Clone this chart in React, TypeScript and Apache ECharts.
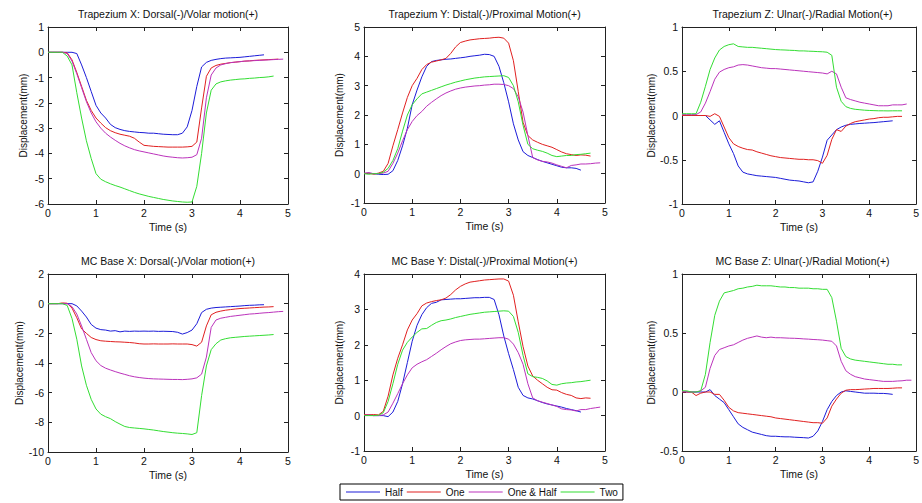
import React, { useEffect, useRef } from "react";
import * as echarts from "echarts";

const TIME = [0, 0.1, 0.2, 0.3, 0.4, 0.5, 0.6, 0.7, 0.8, 0.9, 1.0, 1.1, 1.2, 1.3, 1.4, 1.5, 1.6, 1.7, 1.8, 1.9, 2.0, 2.1, 2.2, 2.3, 2.4, 2.5, 2.6, 2.7, 2.8, 2.9, 3.0, 3.1, 3.2, 3.3, 3.4, 3.5, 3.6, 3.7, 3.8, 3.9, 4.0, 4.1, 4.2, 4.3, 4.4, 4.5, 4.6, 4.7, 4.8, 4.9];
const SERIES_NAMES = ["Half", "One", "One & Half", "Two"];
const COLORS = ["#1c1cd8", "#e02020", "#bb33bb", "#33dd33"];
const X_TICKS = { min: 0, max: 5, interval: 1 };

// Trapezium X
const trapXHalf = [0, 0, 0, 0, 0, 0, -0.05, -0.5, -1.0, -1.55, -2.1, -2.4, -2.6, -2.85, -2.98, -3.05, -3.1, -3.13, -3.15, -3.17, -3.18, -3.2, -3.2, -3.22, -3.24, -3.25, -3.26, -3.26, -3.2, -2.95, -2.3, -1.35, -0.58, -0.4, -0.32, -0.28, -0.25, -0.23, -0.22, -0.21, -0.2, -0.18, -0.16, -0.14, -0.12, -0.1];
const trapXOne = [0, 0, 0, 0, -0.02, -0.3, -0.8, -1.35, -1.9, -2.3, -2.6, -2.8, -2.98, -3.1, -3.18, -3.24, -3.28, -3.32, -3.4, -3.55, -3.68, -3.7, -3.72, -3.73, -3.74, -3.75, -3.75, -3.75, -3.75, -3.74, -3.72, -3.55, -2.2, -0.95, -0.62, -0.52, -0.47, -0.44, -0.41, -0.39, -0.37, -0.35, -0.34, -0.32, -0.31, -0.3, -0.29, -0.28, -0.27];
const trapXOneHalf = [0, 0, 0, 0, -0.05, -0.35, -0.85, -1.4, -1.95, -2.4, -2.75, -3.0, -3.2, -3.35, -3.48, -3.6, -3.7, -3.78, -3.85, -3.9, -3.94, -3.98, -4.02, -4.06, -4.1, -4.13, -4.15, -4.17, -4.18, -4.17, -4.15, -4.05, -3.4, -1.8, -0.9, -0.62, -0.5, -0.45, -0.41, -0.39, -0.37, -0.35, -0.34, -0.33, -0.32, -0.31, -0.3, -0.29, -0.28, -0.27];
const trapXTwo = [0, 0, 0, 0, -0.15, -0.5, -1.6, -2.6, -3.5, -4.2, -4.8, -5.02, -5.12, -5.2, -5.27, -5.33, -5.4, -5.47, -5.54, -5.6, -5.65, -5.7, -5.74, -5.78, -5.82, -5.85, -5.88, -5.9, -5.92, -5.93, -5.92, -5.3, -4.0, -2.4, -1.5, -1.25, -1.17, -1.13, -1.1, -1.08, -1.06, -1.05, -1.03, -1.02, -1.0, -0.99, -0.97, -0.94];

// Trapezium Y
const trapYHalf = [0, 0.02, 0, -0.02, -0.03, -0.02, 0.1, 0.45, 0.95, 1.55, 2.35, 2.85, 3.3, 3.66, 3.82, 3.86, 3.88, 3.9, 3.91, 3.93, 3.95, 3.97, 4.0, 4.02, 4.04, 4.07, 4.06, 4.0, 3.66, 3.1, 2.45, 1.7, 1.15, 0.75, 0.62, 0.55, 0.48, 0.42, 0.37, 0.32, 0.27, 0.22, 0.2, 0.2, 0.18, 0.12];
const trapYOne = [0, 0.02, -0.02, 0.02, 0.08, 0.35, 0.95, 1.5, 2.07, 2.6, 3.0, 3.25, 3.55, 3.72, 3.8, 3.84, 3.88, 3.93, 4.1, 4.32, 4.47, 4.52, 4.56, 4.58, 4.6, 4.61, 4.62, 4.64, 4.65, 4.62, 4.45, 3.85, 2.8, 1.75, 1.3, 1.15, 1.07, 1.0, 0.95, 0.9, 0.82, 0.74, 0.68, 0.65, 0.62, 0.64, 0.63, 0.6];
const trapYOneHalf = [0.02, 0.03, 0, 0, 0.02, 0.08, 0.35, 0.7, 1.12, 1.5, 1.78, 1.98, 2.12, 2.3, 2.43, 2.55, 2.66, 2.75, 2.82, 2.88, 2.92, 2.95, 2.97, 2.99, 3.0, 3.02, 3.03, 3.05, 3.05, 3.04, 3.0, 2.9, 2.62, 2.1, 1.3, 0.55, 0.47, 0.42, 0.4, 0.36, 0.3, 0.25, 0.2, 0.28, 0.3, 0.33, 0.33, 0.34, 0.36, 0.37];
const trapYTwo = [0, -0.02, 0, 0, 0.05, 0.18, 0.45, 0.85, 1.45, 2.0, 2.35, 2.55, 2.72, 2.78, 2.84, 2.9, 2.96, 3.02, 3.07, 3.12, 3.16, 3.2, 3.23, 3.26, 3.28, 3.3, 3.31, 3.32, 3.33, 3.34, 3.28, 3.0, 2.45, 1.65, 1.0, 0.85, 0.8, 0.76, 0.7, 0.62, 0.58, 0.6, 0.62, 0.62, 0.65, 0.66, 0.68, 0.7];

// Trapezium Z
const trapZHalf = [0, 0, 0, 0, 0, 0, -0.05, -0.1, -0.06, -0.19, -0.32, -0.43, -0.57, -0.64, -0.66, -0.67, -0.68, -0.685, -0.69, -0.695, -0.7, -0.71, -0.72, -0.73, -0.735, -0.74, -0.75, -0.76, -0.75, -0.63, -0.47, -0.28, -0.22, -0.16, -0.13, -0.11, -0.1, -0.095, -0.09, -0.087, -0.083, -0.08, -0.075, -0.07, -0.065, -0.06];
const trapZOne = [0, 0, 0, 0, 0, 0, -0.01, 0.02, -0.01, -0.13, -0.25, -0.32, -0.35, -0.37, -0.385, -0.39, -0.41, -0.425, -0.44, -0.455, -0.465, -0.475, -0.48, -0.485, -0.49, -0.495, -0.495, -0.5, -0.5, -0.51, -0.54, -0.45, -0.27, -0.16, -0.18, -0.12, -0.09, -0.07, -0.06, -0.05, -0.04, -0.035, -0.025, -0.02, -0.02, -0.015, -0.01, -0.01];
const trapZOneHalf = [0.01, 0.01, 0.01, 0.01, 0.04, 0.14, 0.27, 0.41, 0.49, 0.52, 0.54, 0.55, 0.57, 0.575, 0.57, 0.56, 0.55, 0.54, 0.535, 0.53, 0.53, 0.525, 0.52, 0.515, 0.51, 0.505, 0.5, 0.495, 0.49, 0.485, 0.48, 0.47, 0.5, 0.47, 0.32, 0.2, 0.18, 0.165, 0.15, 0.14, 0.13, 0.12, 0.11, 0.11, 0.11, 0.12, 0.12, 0.12, 0.13];
const trapZTwo = [0.02, 0.02, 0.02, 0.02, 0.15, 0.33, 0.52, 0.65, 0.74, 0.78, 0.8, 0.81, 0.78, 0.775, 0.77, 0.77, 0.765, 0.76, 0.755, 0.75, 0.745, 0.742, 0.74, 0.737, 0.735, 0.73, 0.73, 0.727, 0.725, 0.722, 0.72, 0.715, 0.68, 0.32, 0.16, 0.1, 0.08, 0.07, 0.065, 0.06, 0.057, 0.055, 0.053, 0.053, 0.052, 0.053, 0.053, 0.053];

// MC Base X
const mcXHalf = [0, 0, 0, 0, 0, 0, -0.15, -0.5, -0.9, -1.4, -1.65, -1.75, -1.78, -1.85, -1.82, -1.9, -1.85, -1.87, -1.85, -1.86, -1.85, -1.86, -1.85, -1.87, -1.86, -1.87, -1.88, -1.93, -2.05, -1.95, -1.78, -1.35, -0.6, -0.38, -0.3, -0.26, -0.24, -0.22, -0.2, -0.18, -0.16, -0.13, -0.11, -0.1, -0.08, -0.07];
const mcXOne = [0, 0, 0, 0.05, 0.03, -0.3, -0.95, -1.7, -2.0, -2.28, -2.42, -2.5, -2.53, -2.55, -2.57, -2.58, -2.6, -2.62, -2.65, -2.7, -2.72, -2.72, -2.71, -2.72, -2.72, -2.72, -2.71, -2.72, -2.72, -2.72, -2.76, -2.86, -2.6, -1.5, -0.75, -0.58, -0.5, -0.44, -0.4, -0.36, -0.33, -0.31, -0.29, -0.27, -0.25, -0.23, -0.22, -0.2];
const mcXOneHalf = [0, 0, 0, 0, 0, -0.2, -0.7, -1.5, -2.4, -3.3, -3.85, -4.17, -4.35, -4.47, -4.58, -4.68, -4.77, -4.86, -4.93, -4.98, -5.02, -5.05, -5.07, -5.08, -5.09, -5.1, -5.11, -5.11, -5.12, -5.1, -5.07, -5.0, -4.75, -3.6, -1.6, -1.1, -0.98, -0.92, -0.86, -0.82, -0.78, -0.74, -0.7, -0.68, -0.65, -0.62, -0.6, -0.57, -0.54, -0.52];
const mcXTwo = [0, 0, 0, 0, -0.12, -1.0, -2.4, -4.2, -5.5, -6.45, -7.1, -7.45, -7.62, -7.75, -7.95, -8.12, -8.28, -8.35, -8.38, -8.41, -8.44, -8.48, -8.52, -8.57, -8.62, -8.66, -8.7, -8.73, -8.75, -8.78, -8.82, -8.7, -6.2, -4.2, -3.1, -2.7, -2.45, -2.36, -2.3, -2.27, -2.24, -2.21, -2.19, -2.17, -2.15, -2.13, -2.11, -2.08];

// MC Base Y
const mcYHalf = [0, 0.02, 0, 0, 0, -0.03, 0.1, 0.4, 0.9, 1.5, 2.1, 2.55, 2.85, 3.05, 3.17, 3.2, 3.27, 3.28, 3.29, 3.3, 3.3, 3.31, 3.32, 3.33, 3.33, 3.34, 3.34, 3.28, 2.85, 2.25, 1.75, 1.3, 0.8, 0.57, 0.5, 0.47, 0.42, 0.37, 0.33, 0.3, 0.27, 0.24, 0.2, 0.17, 0.14, 0.1];
const mcYOne = [0.03, 0.02, 0.03, 0.02, 0.12, 0.55, 1.15, 1.62, 2.0, 2.42, 2.7, 2.88, 3.1, 3.18, 3.22, 3.25, 3.27, 3.32, 3.42, 3.55, 3.65, 3.72, 3.77, 3.79, 3.81, 3.83, 3.84, 3.85, 3.86, 3.86, 3.8, 3.4, 2.65, 1.95, 1.4, 1.12, 1.0, 0.9, 0.8, 0.73, 0.72, 0.65, 0.6, 0.57, 0.5, 0.48, 0.5, 0.49];
const mcYOneHalf = [0.01, 0.01, 0, 0, 0.02, 0.1, 0.35, 0.62, 0.9, 1.15, 1.35, 1.45, 1.52, 1.58, 1.67, 1.76, 1.86, 1.95, 2.03, 2.08, 2.12, 2.14, 2.15, 2.16, 2.16, 2.17, 2.18, 2.19, 2.2, 2.2, 2.16, 2.02, 1.78, 1.45, 0.9, 0.5, 0.42, 0.38, 0.34, 0.3, 0.26, 0.19, 0.17, 0.16, 0.13, 0.17, 0.17, 0.2, 0.22, 0.24];
const mcYTwo = [0, 0, 0, 0.01, 0.08, 0.4, 0.9, 1.45, 1.85, 2.07, 2.22, 2.35, 2.45, 2.46, 2.55, 2.63, 2.68, 2.7, 2.73, 2.77, 2.8, 2.83, 2.86, 2.88, 2.9, 2.92, 2.93, 2.94, 2.95, 2.96, 2.95, 2.8, 2.35, 1.7, 1.18, 1.1, 1.08, 1.05, 0.98, 0.88, 0.86, 0.9, 0.92, 0.93, 0.95, 0.96, 0.98, 1.0];

// MC Base Z
const mcZHalf = [0, 0, 0, 0, 0, 0, 0.02, -0.03, -0.06, -0.09, -0.15, -0.21, -0.27, -0.3, -0.32, -0.34, -0.35, -0.36, -0.37, -0.375, -0.375, -0.378, -0.38, -0.38, -0.383, -0.385, -0.387, -0.39, -0.375, -0.33, -0.25, -0.15, -0.08, -0.03, 0, 0.01, 0.005, 0, -0.005, -0.01, -0.01, -0.01, -0.012, -0.012, -0.015, -0.02];
const mcZOne = [0, 0, 0, -0.03, -0.01, 0, 0, -0.02, -0.02, -0.07, -0.13, -0.16, -0.175, -0.18, -0.185, -0.19, -0.195, -0.2, -0.205, -0.21, -0.22, -0.225, -0.23, -0.235, -0.24, -0.245, -0.25, -0.255, -0.26, -0.26, -0.265, -0.22, -0.12, -0.06, -0.01, 0.015, 0.02, 0.02, 0.022, 0.025, 0.027, 0.03, 0.03, 0.03, 0.03, 0.032, 0.035, 0.035];
const mcZOneHalf = [0.005, 0.005, 0, 0, 0.01, 0.04, 0.2, 0.31, 0.36, 0.375, 0.39, 0.4, 0.42, 0.44, 0.455, 0.465, 0.475, 0.465, 0.46, 0.465, 0.46, 0.46, 0.458, 0.456, 0.455, 0.453, 0.45, 0.448, 0.445, 0.443, 0.44, 0.435, 0.43, 0.39, 0.26, 0.18, 0.15, 0.13, 0.12, 0.11, 0.105, 0.1, 0.095, 0.09, 0.09, 0.09, 0.093, 0.095, 0.1, 0.1];
const mcZTwo = [0.01, 0.01, 0, 0, 0.01, 0.15, 0.42, 0.65, 0.77, 0.84, 0.85, 0.86, 0.875, 0.88, 0.89, 0.895, 0.905, 0.9, 0.9, 0.9, 0.895, 0.89, 0.89, 0.885, 0.885, 0.88, 0.88, 0.88, 0.875, 0.875, 0.87, 0.87, 0.8, 0.6, 0.37, 0.3, 0.28, 0.27, 0.265, 0.26, 0.255, 0.25, 0.245, 0.24, 0.235, 0.235, 0.23, 0.23];

const PANEL_TITLES = [
  "Trapezium X: Dorsal(-)/Volar motion(+)",
  "Trapezium Y: Distal(-)/Proximal Motion(+)",
  "Trapezium Z: Ulnar(-)/Radial Motion(+)",
  "MC Base X: Dorsal(-)/Volar motion(+)",
  "MC Base Y: Distal(-)/Proximal Motion(+)",
  "MC Base Z: Ulnar(-)/Radial Motion(+)",
];
const Y_RANGES = [
  { min: -6, max: 1, interval: 1 },
  { min: -1, max: 5, interval: 1 },
  { min: -1, max: 1, interval: 0.5 },
  { min: -10, max: 2, interval: 2 },
  { min: -1, max: 4, interval: 1 },
  { min: -0.5, max: 1, interval: 0.5 },
];
const PANEL_DATA = [
  [trapXHalf, trapXOne, trapXOneHalf, trapXTwo],
  [trapYHalf, trapYOne, trapYOneHalf, trapYTwo],
  [trapZHalf, trapZOne, trapZOneHalf, trapZTwo],
  [mcXHalf, mcXOne, mcXOneHalf, mcXTwo],
  [mcYHalf, mcYOne, mcYOneHalf, mcYTwo],
  [mcZHalf, mcZOne, mcZOneHalf, mcZTwo],
];

const GRIDS = [
  { left: 48, top: 27, width: 240, height: 177 },
  { left: 364, top: 27, width: 241, height: 176 },
  { left: 682, top: 27, width: 241, height: 177 },
  { left: 48, top: 274, width: 240, height: 178 },
  { left: 364, top: 274, width: 241, height: 177 },
  { left: 682, top: 274, width: 241, height: 177 },
];

const FONT = "'Liberation Sans', Arial, Helvetica, sans-serif";
const TEXT_COLOR = "#111";
const AXIS_COLOR = "#222";

function buildOption() {
  const grid: any[] = [];
  const xAxis: any[] = [];
  const yAxis: any[] = [];
  const series: any[] = [];
  const title: any[] = [];

  GRIDS.forEach((g, i) => {
    grid.push({ ...g, containLabel: false });
    title.push({
      text: PANEL_TITLES[i],
      left: g.left + g.width / 2,
      top: g.top - 19,
      textAlign: "center",
      padding: 0,
      textStyle: { fontSize: 10.5, fontWeight: "normal", color: TEXT_COLOR, fontFamily: FONT },
    });
    const lineCfg = { show: true, onZero: false, lineStyle: { color: AXIS_COLOR, width: 1 } };
    const tickCfg = { show: true, inside: true, length: 4, lineStyle: { color: AXIS_COLOR, width: 1 } };
    xAxis.push({
      type: "value",
      gridIndex: i,
      position: "bottom",
      ...X_TICKS,
      axisLine: lineCfg,
      axisTick: tickCfg,
      splitLine: { show: false },
      axisLabel: { margin: 3, fontSize: 10.5, color: TEXT_COLOR, fontFamily: FONT },
      name: "Time (s)",
      nameLocation: "middle",
      nameGap: 17,
      nameTextStyle: { fontSize: 10.5, color: TEXT_COLOR, fontFamily: FONT },
    });
    xAxis.push({
      type: "value",
      gridIndex: i,
      position: "top",
      ...X_TICKS,
      axisLine: lineCfg,
      axisTick: tickCfg,
      splitLine: { show: false },
      axisLabel: { show: false },
    });
    yAxis.push({
      type: "value",
      gridIndex: i,
      position: "left",
      ...Y_RANGES[i],
      axisLine: lineCfg,
      axisTick: tickCfg,
      splitLine: { show: false },
      axisLabel: { margin: 4, fontSize: 10.5, color: TEXT_COLOR, fontFamily: FONT },
      name: "Displacement(mm)",
      nameLocation: "middle",
      nameGap: 20,
      nameTextStyle: { fontSize: 10, color: TEXT_COLOR, fontFamily: FONT },
    });
    yAxis.push({
      type: "value",
      gridIndex: i,
      position: "right",
      ...Y_RANGES[i],
      axisLine: lineCfg,
      axisTick: tickCfg,
      splitLine: { show: false },
      axisLabel: { show: false },
    });
    PANEL_DATA[i].forEach((vals, s) => {
      series.push({
        type: "line",
        name: SERIES_NAMES[s],
        xAxisIndex: i * 2,
        yAxisIndex: i * 2,
        data: vals.map((v, k) => [TIME[k], v]),
        symbol: "none",
        showSymbol: false,
        clip: true,
        lineStyle: { color: COLORS[s], width: 1 },
        itemStyle: { color: COLORS[s] },
        emphasis: { disabled: true },
      });
    });
  });

  return {
    animation: false,
    backgroundColor: "#ffffff",
    title,
    grid,
    xAxis,
    yAxis,
    series,
    legend: {
      data: SERIES_NAMES.map((n) => ({ name: n, icon: "rect" })),
      left: 340,
      top: 484,
      orient: "horizontal",
      itemWidth: 34,
      itemHeight: 1,
      itemGap: 4,
      padding: [3, 5, 3, 6],
      borderColor: "#000",
      borderWidth: 1,
      backgroundColor: "#fff",
      textStyle: { fontSize: 10, color: TEXT_COLOR, fontFamily: FONT },
      selectedMode: false,
    },
  };
}

export default function App() {
  const ref = useRef<HTMLDivElement | null>(null);
  useEffect(() => {
    if (!ref.current) return;
    const chart = echarts.init(ref.current, undefined, { renderer: "svg" });
    chart.setOption(buildOption() as any);
    return () => {
      chart.dispose();
    };
  }, []);
  return (
    <div
      ref={ref}
      style={{ position: "absolute", left: 0, top: 0, width: 922, height: 503, background: "#fff" }}
    />
  );
}
